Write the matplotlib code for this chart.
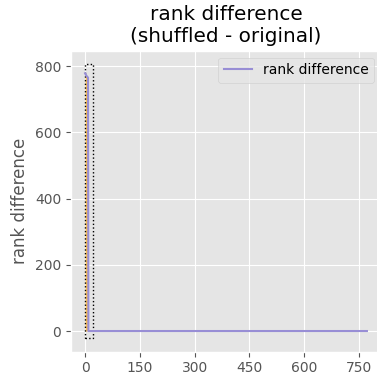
import matplotlib

matplotlib.use("Agg")
import matplotlib.pyplot as plt
from matplotlib.patches import Rectangle

# rank difference (sorted)
rank_x = [0, 4, 8, 9, 772]
rank_y = [778, 770, 765, 0, 0]

# highlighted head of the curve
head_x = [0, 8]
head_y = [772, 765]

# dotted zoom box: (x0, y0, width, height)
box = (0, -21, 23, 826)

plt.style.use("ggplot")
fig = plt.figure(figsize=(3.77, 3.81), dpi=100)
# axes runs slightly past the right edge of the figure, as in the original
ax = fig.add_axes([71 / 377, 0.077, 310 / 377, 0.79])

ax.fill_between(head_x, 0, head_y, color="#FBC15E", linewidth=0)
ax.plot(rank_x, rank_y, color="#988ED5", linewidth=1.5, label="rank difference")
ax.add_patch(
    Rectangle(box[:2], box[2], box[3], fill=False, edgecolor="black",
              linestyle=":", linewidth=1.0)
)
ax.update_datalim([(box[0], box[1]), (box[0] + box[2], box[1] + box[3])])
ax.autoscale_view()

ax.set_xticks([0, 150, 300, 450, 600, 750])
ax.set_yticks([0, 200, 400, 600, 800])
ax.set_ylabel("rank difference")
ax.set_title("rank difference\n(shuffled - original)")
ax.legend(loc="upper right")

fig.savefig("out.png", dpi=100)
